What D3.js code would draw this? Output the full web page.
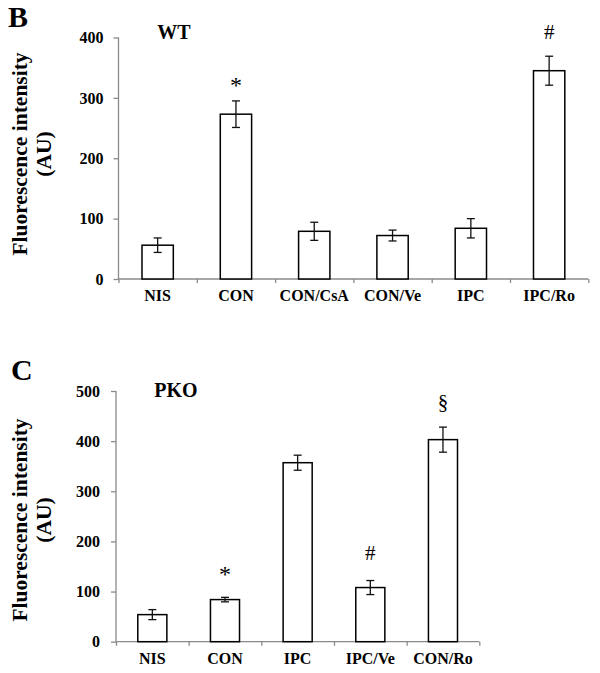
<!DOCTYPE html>
<html><head><meta charset="utf-8">
<script src="https://cdn.jsdelivr.net/npm/d3@7/dist/d3.min.js"></script>
<style>
body{margin:0;background:#fff;}
svg{display:block;}
text{font-family:"Liberation Serif","Times New Roman",serif;font-weight:bold;fill:#000;}
</style></head>
<body>
<svg id="chart" width="600" height="673"></svg>
<script>
// Panel B (WT)
const wtCategories = ["NIS","CON","CON/CsA","CON/Ve","IPC","IPC/Ro"];
const wtValues = [56, 273, 79, 72, 84, 345];
const wtErrors = [12, 22, 15, 9, 16, 24];
const wtTicks = [0,100,200,300,400];
const wtMarks = [{cat:"CON", sym:"*", y:313}, {cat:"IPC/Ro", sym:"#", y:397}];

// Panel C (PKO)
const pkoCategories = ["NIS","CON","IPC","IPC/Ve","CON/Ro"];
const pkoValues = [54, 84, 357, 108, 403];
const pkoErrors = [10, 4.5, 15, 14, 25];
const pkoTicks = [0,100,200,300,400,500];
const pkoMarks = [{cat:"CON", sym:"*", y:125}, {cat:"IPC/Ve", sym:"#", y:163}, {cat:"CON/Ro", sym:"§", y:464}];

const svg = d3.select("#chart");

function panel(o){
  const g = svg.append("g");
  const x = d3.scaleBand().domain(o.cats).range([o.x0,o.x1]).paddingInner(0.6).paddingOuter(0.3);
  const y = d3.scaleLinear().domain([0,o.ymax]).range([o.y0,o.y1]);
  const n = o.cats.length;
  const xb = d3.scaleLinear().domain([0,n]).range([o.x0,o.x1]);

  // y axis
  const ya = g.append("g").attr("transform",`translate(${o.x0},0)`)
    .call(d3.axisLeft(y).tickValues(o.ticks).tickSize(5).tickPadding(o.tickPad).tickFormat(d3.format("d")));
  ya.selectAll("path,line").attr("stroke","#8a8a8a").attr("stroke-width",1.3);
  ya.select(".domain").attr("d",`M0,${o.y0}V${o.y1}`);
  ya.selectAll("text").style("font-size","16px").style("font-family",null).attr("fill","#000");

  // x axis boundary ticks
  const xa = g.append("g").attr("transform",`translate(0,${o.y0})`)
    .call(d3.axisBottom(xb).tickValues(d3.range(n+1)).tickSize(4).tickFormat(""));
  xa.selectAll("path,line").attr("stroke","#8a8a8a").attr("stroke-width",1.3);
  xa.select(".domain").attr("d",`M${o.x0},0H${o.x1}`);

  // category labels
  const xl = g.append("g").attr("transform",`translate(0,${o.y0})`)
    .call(d3.axisBottom(x).tickSize(0).tickPadding(o.labPad));
  xl.select(".domain").remove();
  xl.selectAll("text").style("font-size","16px").style("font-family",null).attr("fill","#000");

  // bars
  g.selectAll("rect.bar").data(o.vals).enter().append("rect")
    .attr("x",(d,i)=>x(o.cats[i])).attr("width",x.bandwidth())
    .attr("y",d=>y(d)).attr("height",d=>o.y0-y(d))
    .attr("fill","#fff").attr("stroke","#000").attr("stroke-width",1.5);

  // error bars
  const eg = g.selectAll("g.err").data(o.vals).enter().append("g");
  const cx = (i)=>x(o.cats[i])+x.bandwidth()/2;
  eg.append("line").attr("x1",(d,i)=>cx(i)).attr("x2",(d,i)=>cx(i))
    .attr("y1",(d,i)=>y(d+o.errs[i])).attr("y2",(d,i)=>y(d-o.errs[i]));
  eg.append("line").attr("x1",(d,i)=>cx(i)-4).attr("x2",(d,i)=>cx(i)+4)
    .attr("y1",(d,i)=>y(d+o.errs[i])).attr("y2",(d,i)=>y(d+o.errs[i]));
  eg.append("line").attr("x1",(d,i)=>cx(i)-4).attr("x2",(d,i)=>cx(i)+4)
    .attr("y1",(d,i)=>y(d-o.errs[i])).attr("y2",(d,i)=>y(d-o.errs[i]));
  eg.selectAll("line").attr("stroke","#111").attr("stroke-width",1.3);

  // significance marks
  g.selectAll("text.mark").data(o.marks).enter().append("text")
    .attr("x",d=>x(d.cat)+x.bandwidth()/2).attr("y",d=>y(d.y) + (d.sym==="*"?3:0))
    .attr("text-anchor","middle").style("font-weight","normal").style("font-size",d=>d.sym==="*"?"24px":"21px")
    .text(d=>d.sym);

  // title
  g.append("text").attr("x",o.titleX).attr("y",o.titleY).attr("text-anchor","middle")
    .style("font-size","20px").text(o.title);
  // panel letter
  g.append("text").attr("x",o.letterX).attr("y",o.letterY).style("font-size","30px").text(o.letter);
  // y label
  const cy = o.labelCY;
  g.append("text").attr("transform",`translate(27,${cy}) rotate(-90)`).attr("text-anchor","middle")
    .style("font-size","21.5px").text("Fluorescence intensity");
  g.append("text").attr("transform",`translate(51,${cy}) rotate(-90)`).attr("text-anchor","middle")
    .style("font-size","21.5px").text("(AU)");
}

panel({cats:wtCategories, vals:wtValues, errs:wtErrors, ticks:wtTicks, marks:wtMarks, ymax:400,
  x0:118.5, x1:588.3, y0:279, y1:37.5, tickPad:10, labPad:11,
  title:"WT", titleX:174, titleY:39, letter:"B", letterX:8, letterY:27, labelCY:154});
panel({cats:pkoCategories, vals:pkoValues, errs:pkoErrors, ticks:pkoTicks, marks:pkoMarks, ymax:500,
  x0:116, x1:479.3, y0:641.7, y1:391, tickPad:11, labPad:11,
  title:"PKO", titleX:176, titleY:397, letter:"C", letterX:11, letterY:380, labelCY:520});
</script>
</body></html>
